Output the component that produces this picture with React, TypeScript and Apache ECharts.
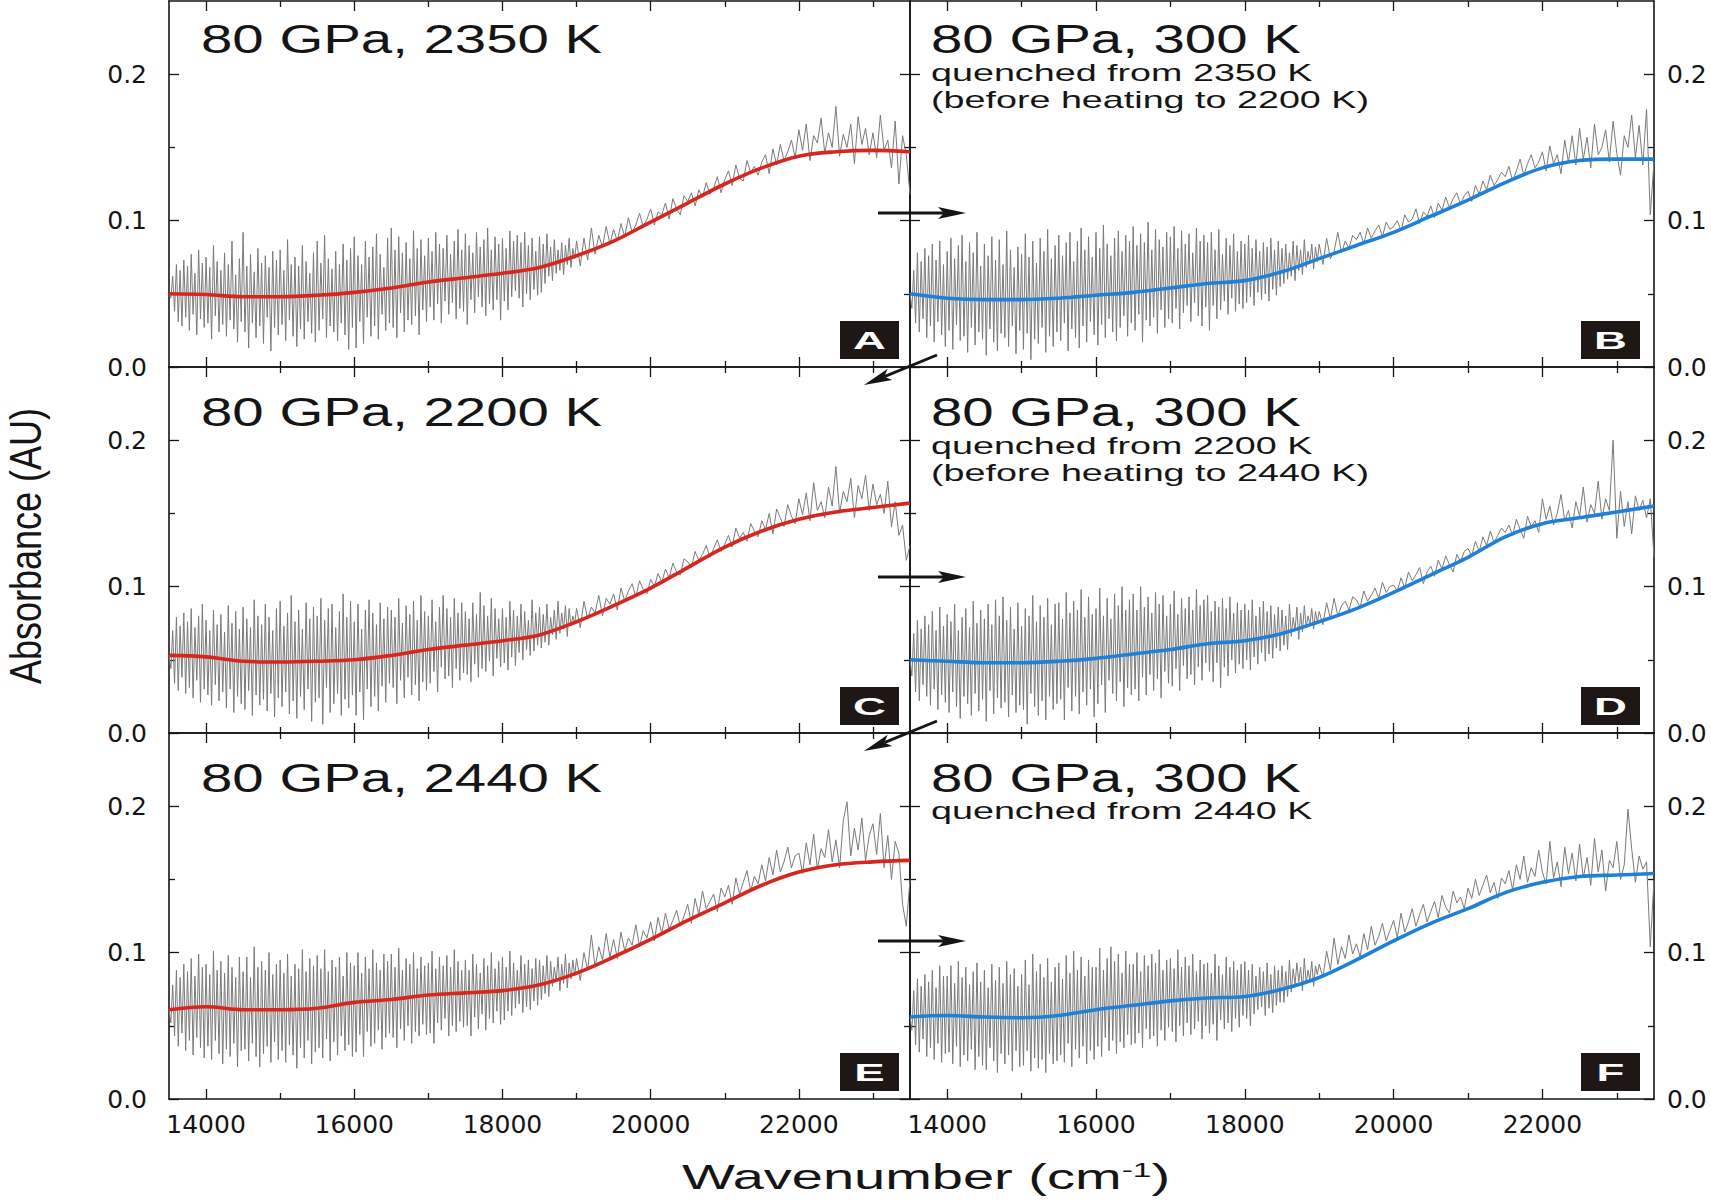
import React, { useEffect, useRef } from "react";
import * as echarts from "echarts";

// ---------- data (absorbance) ----------
// measured spectra: the noisy low-wavenumber part is sampled every 25 cm^-1,
// the upper part every 50 cm^-1
const WN_LO_START = 13500;
const WN_LO_STEP = 25; // 13500 .. 18975
const WN_HI_START = 19000;
const WN_HI_STEP = 50; // 19000 .. 23500
// wavenumbers of the smooth fit curves
const FIT_WN = [13500, 14000, 14500, 15000, 15500, 16000, 16500, 17000, 17500, 18000, 18500, 19000, 19500, 20000, 20500, 21000, 21500, 22000, 22500, 23000, 23500];

// spectra values in mAU
const grayA_lo = [
  50, 47, 62, 38, 70, 31, 66, 28, 73, 34,
  69, 25, 77, 36, 64, 22, 80, 33, 71, 27,
  75, 30, 68, 19, 83, 35, 72, 24, 66, 29,
  78, 21, 70, 32, 86, 26, 63, 17, 74, 31,
  92, 24, 69, 13, 77, 30, 65, 20, 81, 28,
  71, 16, 76, 34, 68, 11, 79, 27, 73, 22,
  80, 29, 66, 18, 87, 32, 70, 21, 75, 14,
  69, 26, 83, 19, 72, 31, 64, 23, 78, 17,
  86, 25, 71, 33, 90, 20, 74, 28, 67, 24,
  79, 18, 70, 30, 84, 22, 73, 12, 81, 27,
  89, 13, 76, 31, 70, 16, 86, 34, 75, 21,
  82, 28, 91, 19, 77, 36, 68, 25, 88, 30,
  95, 27, 80, 20, 89, 37, 78, 24, 85, 32,
  74, 29, 93, 35, 81, 22, 87, 39, 76, 31,
  88, 41, 79, 32, 92, 43, 84, 30, 81, 45,
  90, 36, 77, 44, 86, 33, 94, 40, 80, 38,
  91, 29, 83, 46, 78, 37, 92, 48, 82, 41,
  87, 35, 95, 43, 80, 39, 89, 46, 84, 32,
  88, 45, 81, 39, 93, 48, 86, 52, 90, 47,
  85, 41, 92, 50, 83, 46, 88, 53, 79, 49,
  89, 51, 84, 57, 91, 62, 82, 59, 87, 64,
  80, 66, 85, 63, 83, 70, 88, 68, 81, 74,
];
const grayA_hi = [
  86, 69, 88, 73, 95, 77, 90, 82, 96, 84,
  94, 86, 98, 89, 102, 92, 97, 105, 96, 101,
  108, 97, 106, 104, 112, 101, 115, 108, 104, 117,
  113, 119, 110, 121, 116, 126, 118, 122, 130, 119,
  128, 134, 124, 138, 129, 127, 141, 133, 137, 131,
  140, 145, 132, 149, 138, 152, 141, 147, 155, 143,
  162, 148, 166, 141, 158, 153, 170, 146, 160, 150,
  178, 144, 159, 150, 166, 139, 171, 152, 163, 145,
  160, 143, 172, 148, 155, 136, 168, 125, 158, 145,
  118,
];
const grayB_lo = [
  50, 40, 66, 30, 78, 24, 72, 33, 81, 20,
  76, 28, 84, 17, 73, 31, 86, 22, 70, 14,
  79, 25, 88, 12, 74, 29, 83, 18, 90, 21,
  72, 10, 85, 27, 78, 15, 92, 24, 69, 19,
  84, 8, 76, 26, 89, 17, 73, 11, 87, 23,
  70, 20, 93, 14, 80, 28, 68, 9, 82, 25,
  77, 12, 91, 23, 75, 5, 86, 19, 71, 16,
  88, 27, 79, 10, 94, 21, 74, 14, 83, 24,
  90, 18, 76, 30, 85, 11, 92, 26, 72, 20,
  86, 13, 95, 28, 80, 17, 89, 31, 75, 22,
  92, 15, 81, 29, 97, 20, 84, 33, 76, 24,
  88, 18, 93, 27, 79, 35, 90, 21, 86, 30,
  96, 25, 83, 36, 91, 17, 85, 32, 99, 28,
  80, 34, 94, 23, 87, 39, 82, 27, 92, 33,
  89, 30, 96, 40, 81, 26, 93, 37, 84, 42,
  91, 31, 78, 44, 95, 35, 86, 28, 90, 41,
  85, 25, 92, 42, 80, 33, 94, 39, 77, 45,
  88, 36, 83, 47, 91, 38, 79, 43, 86, 40,
  84, 44, 90, 48, 81, 42, 87, 51, 79, 46,
  85, 50, 82, 45, 88, 53, 80, 49, 86, 55,
  81, 57, 84, 60, 78, 62, 86, 59, 83, 66,
  80, 63, 87, 68, 79, 71, 84, 67, 82, 72,
];
const grayB_hi = [
  84, 70, 88, 74, 79, 92, 78, 86, 81, 90,
  87, 92, 84, 95, 88, 93, 97, 89, 99, 94,
  96, 100, 93, 104, 99, 101, 108, 98, 106, 103,
  110, 102, 112, 107, 116, 109, 115, 119, 111, 117,
  120, 113, 124, 118, 127, 121, 131, 124, 128, 133,
  130, 137, 127, 134, 142, 131, 139, 145, 136, 140,
  147, 134, 151, 139, 145, 132, 155, 140, 158, 138,
  163, 142, 157, 136, 166, 145, 150, 162, 140, 168,
  146, 131, 158, 150, 172, 143, 165, 138, 176, 104,
  140,
];
const grayC_lo = [
  53, 44, 70, 34, 79, 29, 73, 38, 82, 27,
  76, 31, 85, 24, 72, 36, 80, 21, 88, 30,
  77, 26, 70, 19, 84, 33, 74, 22, 81, 28,
  69, 17, 87, 30, 75, 14, 83, 25, 71, 20,
  86, 16, 78, 29, 72, 12, 91, 26, 80, 19,
  74, 23, 88, 15, 79, 27, 70, 11, 85, 24,
  90, 18, 73, 28, 82, 13, 94, 22, 76, 10,
  84, 25, 71, 16, 89, 30, 78, 8, 86, 21,
  80, 24, 92, 6, 77, 31, 85, 14, 88, 20,
  72, 27, 83, 12, 95, 23, 79, 17, 90, 26,
  76, 12, 88, 28, 71, 9, 84, 30, 91, 18,
  82, 25, 74, 15, 89, 32, 78, 21, 86, 34,
  84, 31, 79, 20, 92, 36, 75, 24, 87, 38,
  81, 26, 90, 33, 77, 22, 94, 35, 83, 29,
  80, 34, 91, 42, 76, 28, 86, 45, 94, 37,
  85, 39, 79, 31, 92, 44, 82, 36, 89, 41,
  83, 40, 78, 35, 89, 47, 81, 38, 96, 44,
  87, 42, 80, 49, 92, 39, 85, 51, 78, 45,
  85, 48, 79, 43, 90, 52, 84, 46, 80, 55,
  88, 50, 83, 57, 77, 53, 91, 56, 82, 60,
  86, 58, 81, 62, 88, 60, 79, 67, 84, 64,
  90, 68, 82, 71, 87, 66, 85, 73, 80, 75,
];
const grayC_hi = [
  85, 72, 90, 78, 86, 82, 94, 80, 92, 88,
  95, 84, 99, 90, 97, 102, 93, 104, 98, 95,
  105, 100, 109, 103, 112, 106, 116, 110, 108, 119,
  117, 113, 124, 118, 122, 128, 120, 126, 132, 124,
  129, 135, 127, 140, 133, 137, 131, 143, 138, 134,
  145, 139, 150, 136, 153, 147, 141, 156, 148, 143,
  160, 149, 164, 145, 171, 152, 158, 147, 168, 155,
  182, 150, 165, 158, 174, 147, 169, 160, 176, 152,
  170, 156, 163, 150, 172, 141, 158, 135, 142, 118,
  128,
];
const grayD_lo = [
  50, 39, 68, 28, 77, 22, 71, 33, 80, 25,
  74, 19, 83, 30, 70, 16, 86, 26, 73, 21,
  81, 14, 76, 28, 88, 18, 70, 10, 79, 25,
  85, 20, 72, 12, 90, 27, 75, 15, 84, 23,
  78, 8, 88, 29, 74, 13, 91, 24, 80, 17,
  93, 21, 77, 11, 86, 26, 71, 14, 89, 19,
  73, 16, 85, 6, 80, 27, 94, 18, 76, 12,
  87, 22, 79, 9, 92, 25, 74, 16, 88, 20,
  89, 23, 78, 9, 96, 31, 82, 15, 90, 25,
  84, 13, 98, 28, 79, 19, 93, 30, 81, 11,
  85, 20, 99, 33, 80, 14, 92, 36, 78, 27,
  95, 22, 87, 35, 100, 18, 84, 31, 91, 26,
  95, 30, 84, 22, 100, 38, 86, 26, 93, 40,
  82, 29, 96, 37, 88, 24, 94, 42, 80, 34,
  88, 32, 97, 44, 81, 29, 92, 46, 85, 37,
  93, 40, 84, 33, 98, 45, 87, 36, 91, 48,
  94, 42, 83, 35, 90, 48, 86, 31, 92, 45,
  85, 39, 93, 50, 82, 41, 89, 47, 84, 44,
  88, 50, 84, 43, 91, 52, 80, 47, 86, 55,
  90, 49, 83, 54, 87, 51, 81, 58, 86, 56,
  84, 60, 80, 57, 88, 66, 79, 70, 86, 64,
  82, 69, 87, 72, 80, 74, 85, 71, 83, 76,
];
const grayD_hi = [
  83, 74, 89, 78, 92, 80, 87, 90, 84, 93,
  91, 86, 97, 90, 94, 99, 92, 103, 96, 100,
  101, 97, 106, 99, 110, 104, 108, 113, 102, 110,
  114, 107, 118, 112, 121, 115, 110, 122, 117, 124,
  126, 121, 131, 124, 134, 128, 138, 130, 135, 140,
  137, 142, 135, 146, 139, 133, 148, 141, 145, 137,
  160, 146, 155, 142, 150, 163, 145, 152, 140, 158,
  148, 168, 144, 156, 150, 172, 146, 160, 152, 200,
  133, 165, 141, 158, 136, 162, 152, 159, 147, 160,
  120,
];
const grayE_lo = [
  61, 52, 78, 43, 88, 36, 83, 45, 92, 33,
  87, 40, 96, 30, 84, 42, 99, 35, 90, 28,
  92, 36, 85, 27, 101, 40, 88, 31, 94, 24,
  86, 34, 98, 29, 90, 38, 83, 22, 97, 33,
  87, 34, 97, 26, 83, 38, 104, 29, 90, 22,
  94, 31, 88, 36, 100, 25, 85, 39, 92, 27,
  95, 33, 86, 25, 99, 37, 84, 30, 92, 21,
  89, 35, 102, 28, 87, 40, 96, 24, 91, 32,
  98, 35, 89, 28, 102, 41, 87, 26, 95, 39,
  90, 30, 97, 43, 84, 33, 100, 37, 93, 29,
  91, 32, 100, 44, 86, 29, 97, 46, 89, 36,
  102, 38, 93, 47, 88, 34, 99, 42, 94, 45,
  99, 42, 90, 35, 103, 48, 88, 40, 96, 50,
  92, 38, 100, 46, 89, 43, 97, 51, 91, 44,
  93, 45, 101, 38, 89, 52, 97, 47, 91, 55,
  98, 43, 90, 50, 102, 46, 94, 53, 88, 49,
  95, 50, 88, 43, 99, 56, 92, 48, 86, 58,
  96, 47, 91, 55, 100, 52, 89, 60, 94, 51,
  97, 54, 90, 60, 101, 57, 93, 62, 88, 65,
  98, 59, 92, 63, 95, 61, 89, 67, 96, 64,
  95, 68, 91, 72, 98, 70, 94, 77, 90, 80,
  97, 74, 92, 79, 99, 76, 93, 82, 95, 84,
];
const grayE_hi = [
  96, 81, 100, 88, 112, 90, 104, 95, 113, 97,
  109, 96, 114, 101, 110, 105, 119, 104, 115, 110,
  121, 108, 124, 113, 127, 116, 122, 129, 118, 125,
  133, 120, 137, 126, 142, 130, 135, 140, 128, 144,
  138, 146, 133, 151, 140, 148, 156, 142, 152, 147,
  160, 149, 165, 153, 170, 155, 162, 172, 158, 166,
  168, 154, 175, 160, 181, 157, 171, 165, 184, 162,
  177, 158, 190, 203, 166, 185, 170, 192, 163, 180,
  188, 167, 195, 158, 180, 150, 176, 168, 133, 118,
  150,
];
const grayF_lo = [
  56, 47, 74, 37, 82, 32, 77, 41, 85, 29,
  80, 35, 88, 27, 76, 38, 91, 25, 84, 31,
  84, 32, 91, 24, 79, 36, 94, 22, 83, 30,
  90, 26, 78, 34, 87, 20, 93, 29, 80, 23,
  88, 20, 76, 35, 92, 26, 81, 18, 90, 31,
  79, 24, 94, 30, 85, 19, 89, 33, 77, 22,
  85, 23, 95, 33, 78, 19, 99, 28, 87, 21,
  92, 27, 83, 18, 96, 31, 80, 24, 90, 26,
  93, 30, 82, 25, 98, 38, 86, 22, 101, 34,
  88, 28, 97, 36, 84, 24, 95, 33, 90, 27,
  90, 36, 103, 29, 88, 42, 96, 33, 104, 40,
  94, 31, 99, 39, 86, 35, 101, 44, 92, 37,
  92, 38, 100, 45, 87, 35, 98, 48, 91, 41,
  99, 43, 93, 36, 102, 47, 88, 40, 95, 49,
  96, 46, 89, 39, 102, 50, 90, 43, 97, 52,
  91, 44, 99, 48, 87, 53, 95, 41, 92, 50,
  93, 45, 86, 51, 99, 40, 91, 54, 85, 48,
  97, 52, 90, 46, 94, 55, 88, 49, 92, 57,
  94, 55, 88, 50, 92, 58, 84, 61, 90, 63,
  87, 57, 93, 62, 85, 59, 91, 64, 88, 66,
  91, 66, 87, 70, 95, 73, 89, 78, 93, 80,
  90, 74, 96, 79, 88, 81, 94, 77, 91, 85,
];
const grayF_hi = [
  92, 83, 101, 88, 110, 92, 104, 96, 112, 99,
  106, 97, 113, 102, 118, 105, 111, 120, 108, 115,
  122, 110, 127, 114, 121, 130, 118, 126, 133, 121,
  128, 135, 124, 139, 131, 127, 142, 134, 138, 130,
  144, 137, 150, 139, 146, 153, 141, 148, 137, 151,
  147, 156, 143, 160, 150, 166, 148, 158, 152, 170,
  155, 147, 176, 151, 162, 145, 172, 154, 168, 149,
  174, 151, 165, 146, 178, 155, 170, 142, 163, 158,
  176, 150, 160, 198, 171, 148, 166, 157, 162, 104,
  150,
];

// smooth fits (AU) at FIT_WN
const fitA = [0.050, 0.0495, 0.048, 0.048, 0.049, 0.051, 0.054, 0.058, 0.061, 0.064, 0.068, 0.076, 0.086, 0.099, 0.112, 0.125, 0.136, 0.144, 0.147, 0.148, 0.147];
const fitB = [0.050, 0.047, 0.046, 0.046, 0.047, 0.049, 0.051, 0.054, 0.057, 0.059, 0.065, 0.074, 0.083, 0.092, 0.103, 0.114, 0.126, 0.136, 0.141, 0.142, 0.142];
const fitC = [0.053, 0.052, 0.049, 0.0485, 0.049, 0.050, 0.053, 0.057, 0.060, 0.063, 0.067, 0.076, 0.087, 0.099, 0.113, 0.127, 0.138, 0.146, 0.151, 0.154, 0.157];
const fitD = [0.050, 0.049, 0.048, 0.048, 0.049, 0.051, 0.054, 0.057, 0.061, 0.063, 0.068, 0.076, 0.085, 0.096, 0.108, 0.120, 0.134, 0.143, 0.147, 0.151, 0.155];
const fitE = [0.061, 0.063, 0.061, 0.061, 0.062, 0.066, 0.068, 0.071, 0.0725, 0.074, 0.078, 0.086, 0.097, 0.109, 0.122, 0.134, 0.146, 0.155, 0.160, 0.162, 0.163];
const fitF = [0.056, 0.057, 0.056, 0.0555, 0.057, 0.061, 0.064, 0.067, 0.069, 0.070, 0.075, 0.083, 0.095, 0.108, 0.120, 0.130, 0.141, 0.148, 0.152, 0.153, 0.154];

// axis ticks
const X_MIN = 13500;
const X_MAX = 23500;
const X_MAJOR = [14000, 16000, 18000, 20000, 22000];
const X_MINOR = [15000, 17000, 19000, 21000, 23000];
const Y_MIN = 0;
const Y_MAX = 0.25;
const Y_MAJOR = [0, 0.1, 0.2];
const Y_MINOR = [0.05, 0.15];

// panel texts
const TITLES = ["80 GPa, 2350 K", "80 GPa, 300 K", "80 GPa, 2200 K", "80 GPa, 300 K", "80 GPa, 2440 K", "80 GPa, 300 K"];
const SUBTITLES = [
  [],
  ["quenched from 2350 K", "(before heating to 2200 K)"],
  [],
  ["quenched from 2200 K", "(before heating to 2440 K)"],
  [],
  ["quenched from 2440 K"],
];
const LETTERS = ["A", "B", "C", "D", "E", "F"];
const GRAYS_LO = [grayA_lo, grayB_lo, grayC_lo, grayD_lo, grayE_lo, grayF_lo];
const GRAYS_HI = [grayA_hi, grayB_hi, grayC_hi, grayD_hi, grayE_hi, grayF_hi];
const FITS = [fitA, fitB, fitC, fitD, fitE, fitF];

// ---------- styling / layout ----------
const RED = "#d7261e";
const BLUE = "#1f80d8";
const GRAY = "#7a7a7a";
const INK = "#151515";
const AXIS_FONT = "DejaVu Sans";
const TEXT_FONT = "Liberation Sans";

const COL_LEFT = [169, 910];
const COL_WIDTH = [741, 744];
const ROW_TOP = [1, 367, 733];
const ROW_H = 366;
const TITLE_X = [201, 931];
const TITLE_Y = [39, 412, 778];
const SUB_Y = [73, 446, 811];
const SUB_DY = 27.5;

function arrow(x1: number, y1: number, x2: number, y2: number) {
  const dx = x2 - x1;
  const dy = y2 - y1;
  const L = Math.hypot(dx, dy);
  const ux = dx / L;
  const uy = dy / L;
  const px = -uy;
  const py = ux;
  const head = 28;
  const hw = 6;
  const notch = 6;
  const bx = x2 - ux * head;
  const by = y2 - uy * head;
  const nx = x2 - ux * (head - notch);
  const ny = y2 - uy * (head - notch);
  return [
    { type: "line", z: 120, shape: { x1, y1, x2: nx, y2: ny }, style: { stroke: INK, lineWidth: 2.8 } },
    {
      type: "polygon",
      z: 120,
      shape: { points: [[x2, y2], [bx + px * hw, by + py * hw], [nx, ny], [bx - px * hw, by - py * hw]] },
      style: { fill: INK },
    },
  ];
}

function buildOption() {
  const grid: any[] = [];
  const xAxis: any[] = [];
  const yAxis: any[] = [];
  const series: any[] = [];
  const graphic: any[] = [];

  GRAYS_LO.forEach((lo, g) => {
    const r = Math.floor(g / 2);
    const c = g % 2;
    grid.push({ left: COL_LEFT[c], top: ROW_TOP[r], width: COL_WIDTH[c], height: ROW_H, containLabel: false });

    const mkX = (position: string, ticks: number[], len: number, line: boolean, labels: boolean) => ({
      type: "value",
      gridIndex: g,
      position,
      min: X_MIN,
      max: X_MAX,
      axisLine: { show: line, onZero: false, lineStyle: { color: INK, width: 1.6 } },
      axisTick: { show: true, inside: true, length: len, customValues: ticks, lineStyle: { color: INK, width: 1.3 } },
      axisLabel: labels
        ? { show: true, customValues: ticks, margin: 13, fontSize: 25, fontFamily: AXIS_FONT, color: INK, formatter: (v: number) => String(v) }
        : { show: false },
      splitLine: { show: false },
    });
    const mkY = (position: string, ticks: number[], len: number, line: boolean, labels: boolean) => ({
      type: "value",
      gridIndex: g,
      position,
      min: Y_MIN,
      max: Y_MAX,
      axisLine: { show: line, onZero: false, lineStyle: { color: INK, width: 1.6 } },
      axisTick: { show: true, inside: true, length: len, customValues: ticks, lineStyle: { color: INK, width: 1.3 } },
      axisLabel: labels
        ? {
            show: true,
            customValues: ticks,
            margin: position === "left" ? 22 : 13,
            fontSize: 25,
            fontFamily: AXIS_FONT,
            color: INK,
            formatter: (v: number) => v.toFixed(1),
          }
        : { show: false },
      splitLine: { show: false },
    });

    const xBase = xAxis.length;
    xAxis.push(mkX("bottom", X_MAJOR, 10, true, r === 2));
    xAxis.push(mkX("bottom", X_MINOR, 6, false, false));
    xAxis.push(mkX("top", X_MAJOR, 10, true, false));
    xAxis.push(mkX("top", X_MINOR, 6, false, false));
    const yBase = yAxis.length;
    yAxis.push(mkY("left", Y_MAJOR, 10, true, c === 0));
    yAxis.push(mkY("left", Y_MINOR, 6, false, false));
    yAxis.push(mkY("right", Y_MAJOR, 10, true, c === 1));
    yAxis.push(mkY("right", Y_MINOR, 6, false, false));

    const grayData = lo
      .map((v, i) => [WN_LO_START + WN_LO_STEP * i, v / 1000])
      .concat(GRAYS_HI[g].map((v, i) => [WN_HI_START + WN_HI_STEP * i, v / 1000]));

    series.push({
      type: "line",
      xAxisIndex: xBase,
      yAxisIndex: yBase,
      data: grayData,
      symbol: "none",
      showSymbol: false,
      silent: true,
      lineStyle: { color: GRAY, width: 1 },
      z: 2,
    });
    series.push({
      type: "line",
      xAxisIndex: xBase,
      yAxisIndex: yBase,
      data: FITS[g].map((v, i) => [FIT_WN[i], v]),
      symbol: "none",
      showSymbol: false,
      silent: true,
      smooth: 0.35,
      lineStyle: { color: c === 0 ? RED : BLUE, width: 3.6 },
      z: 3,
    });

    // panel title
    graphic.push({
      type: "text",
      x: TITLE_X[c],
      y: TITLE_Y[r],
      scaleX: 1.41,
      z: 100,
      style: {
        text: TITLES[g],
        fontSize: 40,
        fontFamily: TEXT_FONT,
        fill: INK,
        align: "left",
        verticalAlign: "middle",
        textAlign: "left",
        textVerticalAlign: "middle",
      },
    });
    SUBTITLES[g].forEach((s, k) => {
      graphic.push({
        type: "text",
        x: TITLE_X[c],
        y: SUB_Y[r] + k * SUB_DY,
        scaleX: 1.64,
        z: 100,
        style: {
          text: s,
          fontSize: 23,
          fontFamily: TEXT_FONT,
          fill: INK,
          align: "left",
          verticalAlign: "middle",
          textAlign: "left",
          textVerticalAlign: "middle",
        },
      });
    });

    // panel letter box
    const bx = COL_LEFT[c] + COL_WIDTH[c] - (c === 0 ? 70 : 73);
    const by = ROW_TOP[r] + ROW_H - 46;
    graphic.push({ type: "rect", z: 100, shape: { x: bx, y: by, width: 59, height: 38 }, style: { fill: "#1e1715" } });
    graphic.push({
      type: "text",
      x: bx + 29.5,
      y: by + 19.5,
      scaleX: 1.9,
      z: 101,
      style: {
        text: LETTERS[g],
        fontSize: 24,
        fontWeight: "bold",
        fontFamily: TEXT_FONT,
        fill: "#ffffff",
        align: "center",
        verticalAlign: "middle",
        textAlign: "center",
        textVerticalAlign: "middle",
      },
    });
  });

  // arrows between panels
  [213, 577, 941].forEach((y) => graphic.push(...arrow(878, y, 966, y)));
  graphic.push(...arrow(937, 355, 864, 385));
  graphic.push(...arrow(937, 721, 864, 751));

  // axis names
  graphic.push({
    type: "text",
    x: 26,
    y: 546,
    rotation: Math.PI / 2,
    scaleY: 1.235,
    z: 100,
    style: {
      text: "Absorbance (AU)",
      fontSize: 36,
      fontFamily: TEXT_FONT,
      fill: INK,
      align: "center",
      verticalAlign: "middle",
      textAlign: "center",
      textVerticalAlign: "middle",
    },
  });
  graphic.push({
    type: "text",
    x: 926,
    y: 1177,
    scaleX: 1.6,
    z: 100,
    style: {
      text: "{m|Wavenumber (cm}{s|-1}{m|)}",
      align: "center",
      verticalAlign: "middle",
      textAlign: "center",
      textVerticalAlign: "middle",
      fill: INK,
      rich: {
        m: { fontSize: 35, fontFamily: TEXT_FONT, fill: INK },
        s: { fontSize: 21, fontFamily: TEXT_FONT, fill: INK, verticalAlign: "top" },
      },
    },
  });

  return {
    animation: false,
    backgroundColor: "#ffffff",
    textStyle: { fontFamily: AXIS_FONT },
    grid,
    xAxis,
    yAxis,
    series,
    graphic,
  };
}

export default function App() {
  const ref = useRef<HTMLDivElement>(null);
  useEffect(() => {
    if (!ref.current) return;
    const chart = echarts.init(ref.current, null, { renderer: "svg" });
    chart.setOption(buildOption() as any);
    return () => chart.dispose();
  }, []);
  return <div ref={ref} style={{ position: "absolute", left: 0, top: 0, width: 1711, height: 1200 }} />;
}
